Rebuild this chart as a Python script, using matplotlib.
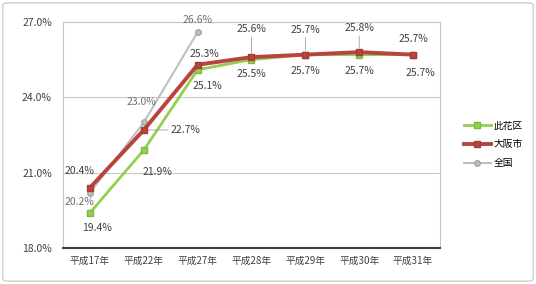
import numpy as np
import matplotlib.pyplot as plt
from matplotlib.patches import FancyBboxPatch

plt.rcParams['font.family'] = ['Noto Sans CJK JP', 'DejaVu Sans']

# データ
years = ['平成17年', '平成22年', '平成27年', '平成28年', '平成29年', '平成30年', '平成31年']
ward = [19.4, 21.9, 25.1, 25.5, 25.7, 25.7, 25.7]
city = [20.4, 22.7, 25.3, 25.6, 25.7, 25.8, 25.7]
nation = [20.2, 23.0, 26.6]
names = ['此花区', '大阪市', '全国']

# ラベル位置 (pixel offset)
ward_off = [(7, -15), (14, -22), (10, -16), (0, -14), (0, -16), (0, -16), (7, -18)]
city_off = [(-10, 17), (42, 0), (7, 11), (0, 28), (0, 25), (0, 24), (0, 16)]
nation_off = [(-10, -9), (-2, 20), (0, 12)]

x = np.arange(len(years))
fig = plt.figure(figsize=(5.36, 2.84), dpi=100)
ax = fig.add_axes([63/536, 1-248/284, 377/536, 226/284])

ax.plot(x, ward, color='#92D050', lw=2, marker='s', ms=5, mec='#7FBA3E', mfc='#92D050', label=names[0], zorder=3)
ax.plot(x, city, color='#B9443F', lw=2.8, marker='s', ms=5, mec='#A33A36', mfc='#B9443F', label=names[1], zorder=4)
ax.plot(x[:len(nation)], nation, color='#BFBFBF', lw=1.5, marker='o', ms=4, mec='#A6A6A6', mfc='#BFBFBF', label=names[2], zorder=2)

lead = dict(arrowstyle='-', color='#A0A0A0', lw=0.6, shrinkA=0, shrinkB=3)
for i, v in enumerate(ward):
    ax.annotate(f'{v:.1f}%', (x[i], v), xytext=ward_off[i], textcoords='offset pixels',
                ha='center', va='center', fontsize=7.5, color='#404040')
for i, v in enumerate(city):
    ap = lead if i in (1, 3, 4, 5) else None
    ax.annotate(f'{v:.1f}%', (x[i], v), xytext=city_off[i], textcoords='offset pixels',
                ha='center', va='center', fontsize=7.5, color='#404040', arrowprops=ap)
for i, v in enumerate(nation):
    ax.annotate(f'{v:.1f}%', (x[i], v), xytext=nation_off[i], textcoords='offset pixels',
                ha='center', va='center', fontsize=7.5, color='#707070')

ax.set_xlim(-0.5, 6.5)
ax.set_ylim(18, 27)
ax.set_yticks([18, 21, 24, 27])
ax.set_yticklabels(['18.0%', '21.0%', '24.0%', '27.0%'])
ax.set_xticks(x)
ax.set_xticklabels(years)
ax.tick_params(axis='x', length=0, labelsize=7, colors='#404040', pad=6)
ax.tick_params(axis='y', length=0, labelsize=7.5, colors='#404040', pad=8)
ax.grid(axis='y', color='#C8C8C8', lw=0.8)
ax.set_axisbelow(True)
for s in ['left', 'right', 'top']:
    ax.spines[s].set_color('#C8C8C8')
    ax.spines[s].set_linewidth(0.8)
ax.spines['bottom'].set_color('#404040')
ax.spines['bottom'].set_linewidth(1.5)

fig.legend(loc='upper left', bbox_to_anchor=(455/536, 1-112/284), frameon=False,
           fontsize=7, handlelength=2.8, labelspacing=0.9, handletextpad=0.3)

fig.patches.append(FancyBboxPatch((0.005, 0.01), 0.99, 0.98, boxstyle='round,pad=0,rounding_size=0.01',
                                  transform=fig.transFigure, fill=False, ec='#D0D0D0', lw=1))
fig.savefig('out.png', dpi=100)
